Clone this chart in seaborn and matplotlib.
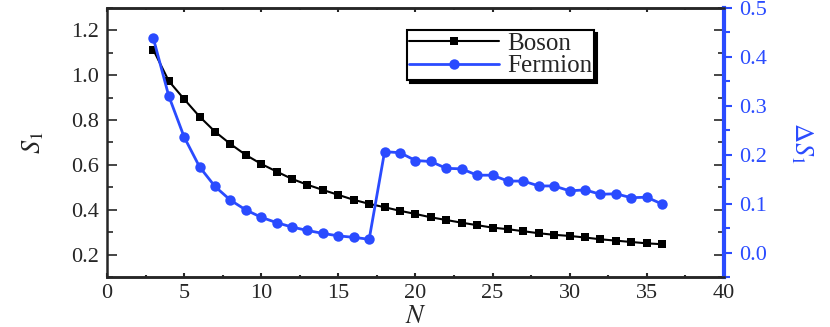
import numpy as np
import pandas as pd
import matplotlib
matplotlib.use("Agg")
import matplotlib.pyplot as plt
import seaborn as sns
from matplotlib.ticker import MultipleLocator, FormatStrFormatter

# data
n_vals = list(range(3, 37))
boson_s1 = [1.113, 0.974, 0.893, 0.815, 0.748, 0.693, 0.644, 0.604, 0.570, 0.537,
            0.511, 0.488, 0.466, 0.444, 0.426, 0.411, 0.395, 0.381, 0.366, 0.354,
            0.342, 0.331, 0.320, 0.313, 0.304, 0.295, 0.288, 0.283, 0.276, 0.268,
            0.262, 0.256, 0.250, 0.246]
fermion_ds1 = [0.438, 0.320, 0.236, 0.175, 0.135, 0.107, 0.087, 0.072, 0.061, 0.052,
               0.045, 0.039, 0.034, 0.031, 0.027, 0.206, 0.204, 0.188, 0.186, 0.172,
               0.171, 0.158, 0.158, 0.146, 0.146, 0.136, 0.136, 0.126, 0.128, 0.119,
               0.120, 0.112, 0.113, 0.099]

df = pd.DataFrame({"N": n_vals, "Boson": boson_s1, "Fermion": fermion_ds1})

sns.set_style("ticks")
plt.rcParams["font.family"] = ["Liberation Serif", "DejaVu Serif"]
plt.rcParams["mathtext.fontset"] = "stix"

blue = "#2a4bff"

fig = plt.figure(figsize=(8.3, 3.27), dpi=100)
ax = fig.add_axes([0.129, 0.153, 0.743, 0.823])
ax2 = ax.twinx()

sns.lineplot(data=df, x="N", y="Boson", ax=ax, color="black", marker="s",
             markersize=6, markeredgewidth=0, linewidth=1.5, label="Boson", legend=False)
sns.lineplot(data=df, x="N", y="Fermion", ax=ax2, color=blue, marker="o",
             markersize=7.5, markeredgewidth=0, linewidth=2, label="Fermion", legend=False)

ax.set_xlim(0, 40)
ax.set_ylim(0.1, 1.3)
ax2.set_ylim(-0.05, 0.5)

ax.xaxis.set_major_locator(MultipleLocator(5))
ax.xaxis.set_minor_locator(MultipleLocator(2.5))
ax.yaxis.set_major_locator(MultipleLocator(0.2))
ax.yaxis.set_minor_locator(MultipleLocator(0.1))
ax2.yaxis.set_major_locator(MultipleLocator(0.1))
ax2.yaxis.set_minor_locator(MultipleLocator(0.05))

ax.tick_params(axis="x", which="major", direction="in", length=3, width=1.5,
               top=True, labelsize=16, pad=5)
ax.tick_params(axis="x", which="minor", direction="in", length=1.5, width=1.5, top=True)
ax.tick_params(axis="y", which="major", direction="in", length=7, width=1.2,
               right=True, labelsize=16, pad=6)
ax.tick_params(axis="y", which="minor", direction="in", length=4, width=1.2, right=True)
ax2.tick_params(axis="y", which="major", direction="out", length=6, width=1.5,
                colors=blue, labelsize=16, pad=5)
ax2.tick_params(axis="y", which="minor", direction="out", length=4, width=1.5, colors=blue)

ax.yaxis.set_major_formatter(FormatStrFormatter("%.1f"))
ax2.yaxis.set_major_formatter(FormatStrFormatter("%.1f"))

for sp in ax.spines.values():
    sp.set_linewidth(1.8)
for sp in ax2.spines.values():
    sp.set_linewidth(1.8)
ax2.spines["right"].set_color(blue)
ax2.spines["right"].set_linewidth(3)
ax2.spines["left"].set_visible(False)

ax.set_xlabel(r"$N$", fontsize=19, labelpad=2)
ax.set_ylabel(r"$S_1$", fontsize=19, labelpad=18)
ax2.set_ylabel(r"$\Delta S_1$", fontsize=19, color=blue, rotation=270, labelpad=34)

h1, l1 = ax.get_legend_handles_labels()
h2, l2 = ax2.get_legend_handles_labels()
leg = ax2.legend(h1 + h2, l1 + l2, loc="upper left", bbox_to_anchor=(0.486, 0.918),
                 fontsize=18, handlelength=3.6, handletextpad=0.3, borderpad=0.1,
                 labelspacing=0.0, fancybox=False, shadow={"color": "black", "alpha": 1},
                 framealpha=1, edgecolor="black", borderaxespad=0)
leg.get_frame().set_linewidth(1.5)

fig.savefig("out.png", dpi=100)
